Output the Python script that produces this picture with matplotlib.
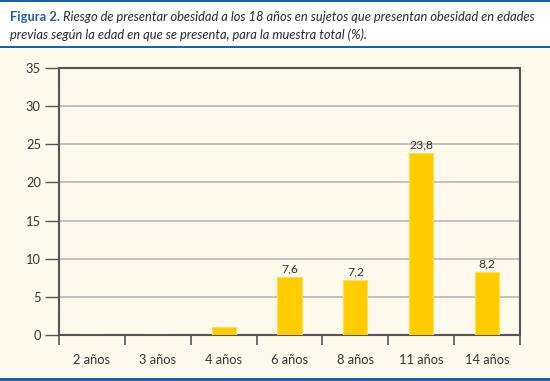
import matplotlib
matplotlib.use("Agg")
import matplotlib.pyplot as plt
from matplotlib.ticker import MultipleLocator, FixedLocator
import numpy as np

categories = ["2 años", "3 años", "4 años", "6 años", "8 años", "11 años", "14 años"]
values = [0.0, 0.0, 1.0, 7.6, 7.2, 23.8, 8.2]
labels = ["", "", "", "7,6", "7,2", "23,8", "8,2"]

title_bold = "Figura 2."
title_line1 = " Riesgo de presentar obesidad a los 18 años en sujetos que presentan obesidad en edades"
title_line2 = "previas según la edad en que se presenta, para la muestra total (%)."

plt.rcParams['font.family'] = ['Lato', 'DejaVu Sans']

cream = "#fef9ec"
blue = "#1f5fa6"
fig = plt.figure(figsize=(5.5, 3.81), dpi=100)
fig.patch.set_facecolor("white")

# cream panel under the caption, blue rules top / middle / bottom
fig.patches.append(plt.Rectangle((0, 0), 1, 1 - 47 / 381, transform=fig.transFigure,
                                 facecolor=cream, edgecolor="none", zorder=-2))
for y0, h in [(1 - 1.5 / 381, 1.5 / 381), (1 - 48 / 381, 2 / 381), (0, 3 / 381)]:
    fig.patches.append(plt.Rectangle((0, y0), 1, h, transform=fig.transFigure,
                                     facecolor=blue, edgecolor="none", zorder=1))

fs_title = 9.3
t = fig.text(10 / 550, 1 - 17 / 381, title_bold, color=blue, fontweight="bold",
             fontsize=fs_title, va="center", ha="left")
fig.canvas.draw()
bb = t.get_window_extent(renderer=fig.canvas.get_renderer())
x_next = bb.x1 / fig.bbox.width
fig.text(x_next, 1 - 17 / 381, title_line1, color="#2a2a2a", style="italic",
         fontsize=fs_title, va="center", ha="left")
fig.text(10 / 550, 1 - 35 / 381, title_line2, color="#2a2a2a", style="italic",
         fontsize=fs_title, va="center", ha="left")

ax = fig.add_axes([59 / 550, 46 / 381, 461 / 550, 267 / 381])
ax.set_facecolor(cream)
x = np.arange(len(categories))
bars = ax.bar(x, values, width=0.365, color="#ffcc00", edgecolor="#ffdf55",
              linewidth=0.8, zorder=3)
for b, lab in zip(bars, labels):
    if lab:
        ax.text(b.get_x() + b.get_width() / 2, b.get_height() + 0.35, lab,
                ha="center", va="bottom", fontsize=8.8, color="#333333")

ax.set_xlim(-0.5, len(categories) - 0.5)
ax.set_ylim(0, 35)
ax.yaxis.set_major_locator(MultipleLocator(5))
ax.grid(axis="y", color="#b8b8b8", linewidth=1.2, zorder=0)
ax.set_axisbelow(True)

ax.set_xticks(x)
ax.set_xticklabels(categories)
ax.xaxis.set_minor_locator(FixedLocator(np.arange(-0.5, len(categories), 1.0)))
ax.tick_params(axis="x", which="major", length=0, pad=14, labelsize=9.3, colors="#333333")
ax.tick_params(axis="x", which="minor", length=7, width=1.2, color="#555555")
ax.tick_params(axis="y", which="major", length=10, width=1.0, color="#555555",
               labelsize=9.3, labelcolor="#333333", pad=3)

for s in ax.spines.values():
    s.set_color("#555555")
    s.set_linewidth(1.5)

fig.savefig("out.png", dpi=100, facecolor=fig.get_facecolor())
